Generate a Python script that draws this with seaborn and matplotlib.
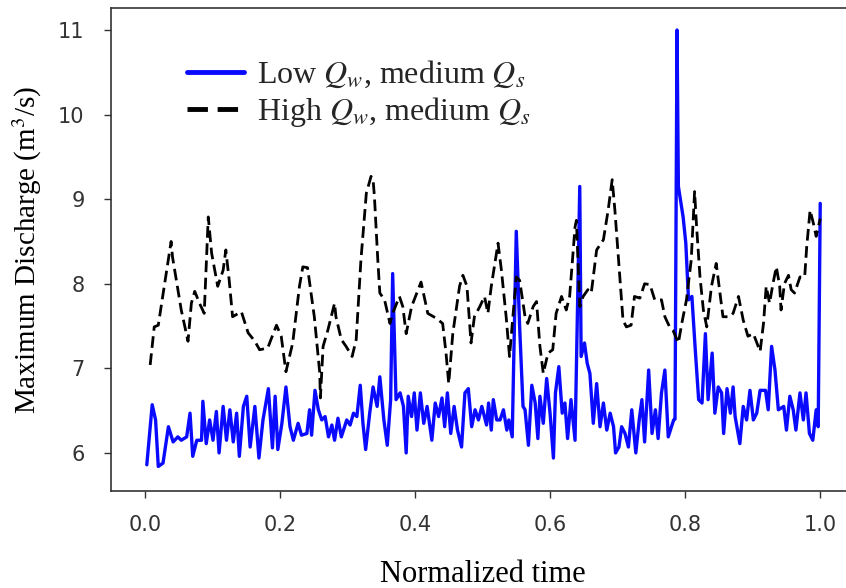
import numpy as np
import pandas as pd
import matplotlib
matplotlib.use("Agg")
import matplotlib.pyplot as plt
import seaborn as sns

# ---- data ----
blue_t = [0.003, 0.011, 0.016, 0.020, 0.027, 0.035, 0.042, 0.049, 0.054, 0.062,
          0.067, 0.071, 0.077, 0.084, 0.086, 0.091, 0.096, 0.101, 0.106, 0.110,
          0.116, 0.121, 0.126, 0.131, 0.136, 0.140, 0.146, 0.151, 0.156, 0.163,
          0.169, 0.175, 0.183, 0.189, 0.193, 0.197, 0.203, 0.209, 0.215, 0.220,
          0.227, 0.232, 0.240, 0.244, 0.247, 0.252, 0.257, 0.262, 0.267, 0.272,
          0.277, 0.281, 0.286, 0.291, 0.299, 0.304, 0.309, 0.314, 0.319, 0.323,
          0.327, 0.333, 0.338, 0.344, 0.348, 0.354, 0.359, 0.364, 0.367, 0.372,
          0.378, 0.383, 0.387, 0.390, 0.395, 0.399, 0.403, 0.408, 0.413, 0.418,
          0.425, 0.430, 0.435, 0.440, 0.444, 0.448, 0.453, 0.458, 0.463, 0.469,
          0.474, 0.479, 0.484, 0.489, 0.494, 0.499, 0.506, 0.509, 0.513, 0.516,
          0.521, 0.526, 0.531, 0.536, 0.539, 0.544, 0.550, 0.555, 0.560, 0.563,
          0.568, 0.573, 0.578, 0.582, 0.585, 0.590, 0.595, 0.600, 0.605, 0.608,
          0.613, 0.618, 0.622, 0.626, 0.631, 0.637, 0.644, 0.646, 0.651, 0.655,
          0.659, 0.664, 0.669, 0.674, 0.679, 0.684, 0.689, 0.694, 0.697, 0.702,
          0.706, 0.711, 0.716, 0.721, 0.727, 0.732, 0.736, 0.740, 0.746, 0.751,
          0.756, 0.760, 0.765, 0.770, 0.775, 0.783, 0.785, 0.788, 0.790, 0.797,
          0.801, 0.805, 0.810, 0.815, 0.820, 0.825, 0.830, 0.834, 0.840, 0.844,
          0.849, 0.854, 0.857, 0.862, 0.867, 0.871, 0.874, 0.881, 0.886, 0.891,
          0.896, 0.901, 0.906, 0.911, 0.919, 0.923, 0.928, 0.933, 0.938, 0.946,
          0.950, 0.955, 0.960, 0.964, 0.970, 0.975, 0.979, 0.984, 0.989, 0.994,
          0.997, 1.000]
blue_q = [5.86, 6.57, 6.39, 5.84, 5.88, 6.31, 6.13, 6.19, 6.15, 6.19,
          6.47, 5.96, 6.15, 6.15, 6.61, 6.11, 6.39, 6.15, 6.49, 6.00,
          6.55, 6.15, 6.51, 6.13, 6.47, 5.96, 6.55, 6.67, 6.07, 6.55,
          5.94, 6.39, 6.76, 6.06, 6.67, 6.04, 6.35, 6.78, 6.31, 6.15,
          6.35, 6.21, 6.23, 6.51, 6.21, 6.74, 6.51, 6.39, 6.43, 6.19,
          6.33, 6.15, 6.41, 6.19, 6.39, 6.33, 6.47, 6.43, 6.80, 6.35,
          6.04, 6.47, 6.78, 6.55, 6.90, 6.39, 6.09, 6.63, 8.12, 6.63,
          6.71, 6.55, 6.00, 6.67, 6.43, 6.71, 6.27, 6.71, 6.35, 6.55,
          6.15, 6.59, 6.43, 6.65, 6.31, 6.71, 6.23, 6.55, 6.27, 6.07,
          6.71, 6.76, 6.31, 6.51, 6.39, 6.55, 6.33, 6.59, 6.27, 6.63,
          6.39, 6.39, 6.51, 6.27, 6.39, 6.19, 8.62, 7.49, 6.55, 6.51,
          6.09, 6.80, 6.59, 6.17, 6.67, 6.35, 6.88, 6.47, 5.94, 6.71,
          7.02, 6.47, 6.59, 6.17, 6.63, 6.15, 9.15, 7.14, 7.30, 7.06,
          6.94, 6.35, 6.82, 6.31, 6.59, 6.27, 6.47, 6.31, 6.00, 6.07,
          6.31, 6.23, 6.07, 6.51, 6.00, 6.39, 6.63, 6.13, 6.98, 6.23,
          6.51, 6.17, 6.71, 6.98, 6.19, 6.39, 6.40, 11.00, 9.15, 8.79,
          8.48, 7.81, 7.85, 7.22, 6.63, 6.59, 7.41, 6.63, 7.18, 6.47,
          6.78, 6.71, 6.23, 6.76, 6.47, 6.78, 6.43, 6.11, 6.55, 6.39,
          6.74, 6.39, 6.47, 6.74, 6.74, 6.51, 7.26, 6.98, 6.51, 6.55,
          6.27, 6.67, 6.51, 6.27, 6.71, 6.39, 6.71, 6.23, 6.15, 6.51,
          6.31, 8.95]

black_t = [0.008, 0.014, 0.020, 0.039, 0.041, 0.054, 0.064, 0.069, 0.074, 0.081,
           0.088, 0.094, 0.099, 0.108, 0.116, 0.120, 0.125, 0.130, 0.143, 0.153,
           0.163, 0.170, 0.182, 0.195, 0.202, 0.209, 0.219, 0.229, 0.234, 0.241,
           0.251, 0.259, 0.260, 0.264, 0.271, 0.281, 0.283, 0.291, 0.298, 0.307,
           0.313, 0.320, 0.328, 0.335, 0.338, 0.340, 0.345, 0.348, 0.355, 0.363,
           0.367, 0.377, 0.382, 0.387, 0.395, 0.409, 0.419, 0.432, 0.441, 0.446,
           0.450, 0.456, 0.466, 0.471, 0.477, 0.483, 0.488, 0.496, 0.503, 0.508,
           0.513, 0.523, 0.528, 0.535, 0.540, 0.545, 0.550, 0.555, 0.563, 0.567,
           0.575, 0.580, 0.585, 0.590, 0.597, 0.604, 0.609, 0.617, 0.624, 0.629,
           0.637, 0.639, 0.644, 0.649, 0.656, 0.661, 0.669, 0.679, 0.686, 0.692,
           0.696, 0.703, 0.708, 0.713, 0.720, 0.725, 0.733, 0.740, 0.748, 0.755,
           0.765, 0.770, 0.777, 0.782, 0.790, 0.795, 0.802, 0.809, 0.814, 0.817,
           0.822, 0.827, 0.832, 0.839, 0.844, 0.846, 0.851, 0.856, 0.866, 0.871,
           0.879, 0.886, 0.893, 0.901, 0.911, 0.916, 0.920, 0.925, 0.930, 0.935,
           0.940, 0.942, 0.947, 0.953, 0.957, 0.962, 0.970, 0.977, 0.980, 0.985,
           0.990, 0.994, 1.000]
black_q = [7.04, 7.49, 7.51, 8.50, 8.32, 7.69, 7.32, 7.77, 7.91, 7.77,
           7.65, 8.79, 8.36, 7.97, 8.16, 8.40, 8.04, 7.61, 7.67, 7.42,
           7.32, 7.22, 7.24, 7.51, 7.38, 6.96, 7.30, 7.97, 8.20, 8.19,
           7.61, 6.95, 6.65, 7.26, 7.45, 7.77, 7.61, 7.34, 7.26, 7.14,
           7.34, 8.28, 9.07, 9.27, 9.23, 9.03, 8.28, 7.89, 7.81, 7.53,
           7.65, 7.85, 7.73, 7.41, 7.73, 8.02, 7.65, 7.59, 7.53, 7.18,
           6.82, 7.41, 7.97, 8.10, 7.97, 7.30, 7.61, 7.73, 7.85, 7.65,
           7.97, 8.48, 8.16, 7.61, 7.14, 7.61, 8.08, 8.04, 7.61, 7.53,
           7.73, 7.79, 7.26, 6.94, 7.18, 7.22, 7.65, 7.85, 7.69, 7.85,
           8.67, 8.75, 7.73, 7.85, 7.93, 7.89, 8.40, 8.52, 8.87, 9.23,
           8.87, 8.12, 7.57, 7.49, 7.51, 7.85, 7.83, 8.00, 7.99, 7.81,
           7.81, 7.61, 7.49, 7.45, 7.30, 7.53, 7.81, 8.28, 9.09, 8.67,
           8.08, 7.69, 7.49, 7.97, 8.16, 8.24, 7.93, 7.61, 7.61, 7.65,
           7.85, 7.57, 7.38, 7.41, 7.20, 7.53, 7.97, 7.77, 8.00, 8.20,
           7.97, 7.69, 8.00, 8.10, 7.93, 7.89, 8.08, 8.08, 8.44, 8.87,
           8.71, 8.56, 8.77]

label_low = r"Low $Q_w$, medium $Q_s$"
label_high = r"High $Q_w$, medium $Q_s$"
x_label = "Normalized time"
y_label = "Maximum Discharge (m$^3$/s)"

# ---- plot ----
sns.set_style("ticks")
plt.rcParams["mathtext.fontset"] = "stix"
plt.rcParams["font.family"] = ["DejaVu Sans"]

fig = plt.figure(figsize=(8.46, 5.88), dpi=100)
W, H = 846, 588
ax = fig.add_axes([111 / W, (588 - 491) / H, (854 - 111) / W, (491 - 8) / H])

df_blue = pd.DataFrame({"t": blue_t, "q": blue_q})
df_black = pd.DataFrame({"t": black_t, "q": black_q})

sns.lineplot(data=df_blue, x="t", y="q", ax=ax, color="#0a0aff", linewidth=2.4,
             estimator=None, sort=False, label=label_low)
sns.lineplot(data=df_black, x="t", y="q", ax=ax, color="black", linewidth=2.0,
             linestyle=(0, (4.2, 2.0)), estimator=None, sort=False,
             label=label_high)

ax.set_xlim(-0.05, 1.05)
ax.set_ylim(5.55, 11.26)
ax.set_xticks([0.0, 0.2, 0.4, 0.6, 0.8, 1.0])
ax.set_yticks([6, 7, 8, 9, 10, 11])
ax.tick_params(axis="both", labelsize=15, colors="#333333", length=5, width=1,
               labelcolor="#333333")
ax.tick_params(axis="x", pad=12)
ax.tick_params(axis="y", pad=14)
for s in ax.spines.values():
    s.set_color("#333333")
    s.set_linewidth(1.2)

serif = ["Liberation Serif", "DejaVu Serif"]
ax.set_xlabel(x_label, fontsize=22, family=serif, labelpad=18, color="black")
ax.set_ylabel(y_label, fontsize=21, family=serif, labelpad=10, color="black")

leg = ax.legend(loc="upper left", bbox_to_anchor=(0.102, 0.895), frameon=False,
                prop={"family": serif, "size": 23}, handlelength=1.8,
                handletextpad=0.4, labelspacing=0.15, borderpad=0,
                borderaxespad=0)
for h in leg.get_lines():
    h.set_linewidth(3.5)

fig.savefig("out.png", dpi=100)
